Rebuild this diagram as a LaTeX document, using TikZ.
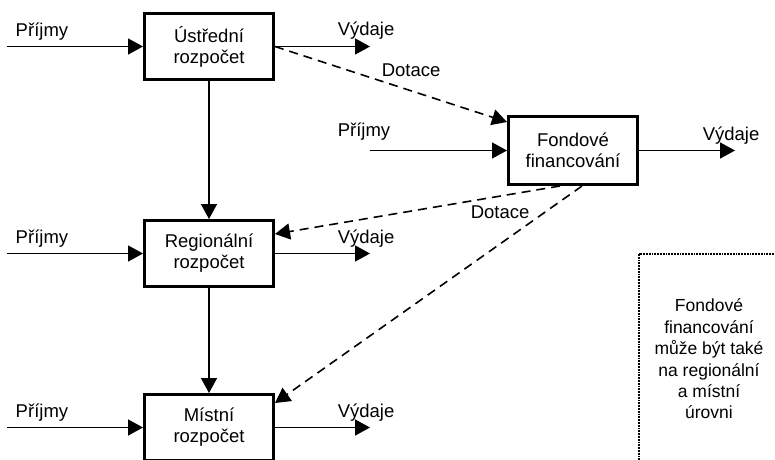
\documentclass[tikz,border=0pt]{standalone}
\usepackage{fontspec}
\setmainfont{Liberation Sans}
\usetikzlibrary{arrows.meta, positioning}

\begin{document}
\begin{tikzpicture}[x=1pt, y=-1pt, ->, >={Triangle[length=15pt, width=16pt]}, line width=1.5pt,
	budget/.style={draw, line width=3pt, minimum width=129pt, minimum height=66pt, align=center, font=\fontsize{18.5}{21}\selectfont},
	flow/.style={anchor=base west, inner sep=0pt, font=\fontsize{18.5}{21}\selectfont},
	grant/.style={dash pattern=on 9pt off 6pt, line width=1.6pt}]
		\clip (0,0) rectangle (775,459);
		\node[budget]	(ustr) at (209,46.5)		{Ústřední\\rozpočet};
		\node[budget]	(reg)[below=138pt of ustr]	{Regionální\\rozpočet};
		\node[budget]	(mist)[below=105pt of reg]	{Místní\\rozpočet};
		\node[budget, minimum height=68pt]	(fond) at (573,150.5)	{Fondové\\financování};
		\coordinate[left=136pt of ustr]		(in1);
		\coordinate[right=95pt of ustr]		(out1);
		\coordinate[left=136pt of reg]		(in2);
		\coordinate[right=95pt of reg]		(out2);
		\coordinate[left=136pt of mist]		(in3);
		\coordinate[right=95pt of mist]		(out3);
		\coordinate[left=137pt of fond]		(in4);
		\coordinate[right=96pt of fond]		(out4);
		\path
		(in1)	edge	(ustr)
		(ustr)	edge	(out1)
		(in2)	edge	(reg)
		(reg)	edge	(out2)
		(in3)	edge	(mist)
		(mist)	edge	(out3)
		(in4)	edge	(fond)
		(fond)	edge	(out4)
		(ustr)	edge	(reg)
		(reg)	edge	(mist)
		(ustr.east)	edge[grant]	([yshift=-7pt]fond.north west)
		([xshift=-13pt]fond.south)	edge[grant]	([yshift=-15pt]reg.north east)
		([xshift=9pt]fond.south)	edge[grant]	([yshift=-10pt]mist.north east);
		\node[flow]	(pr1) at (15,36)	{Příjmy};
		\node[flow]	(vy1) at (337,35)	{Výdaje};
		\node[flow]	(pr2) at (15,243)	{Příjmy};
		\node[flow]	(vy2) at (337,243)	{Výdaje};
		\node[flow]	(pr3) at (15,417)	{Příjmy};
		\node[flow]	(vy3) at (337,417)	{Výdaje};
		\node[flow]	(pr4) at (337,136)	{Příjmy};
		\node[flow]	(vy4) at (702,140)	{Výdaje};
		\node[flow]	(dot1) at (381,76)	{Dotace};
		\node[flow]	(dot2) at (470,218)	{Dotace};
		\draw[-, densely dotted, line width=1.8pt] (639,254) rectangle (790,470);
		\node[align=center, font=\fontsize{17.5}{21.4}\selectfont]	(note) at (709,359)
			{Fondové\\financování\\může být také\\na regionální\\a místní\\úrovni};
\end{tikzpicture}
\end{document}
